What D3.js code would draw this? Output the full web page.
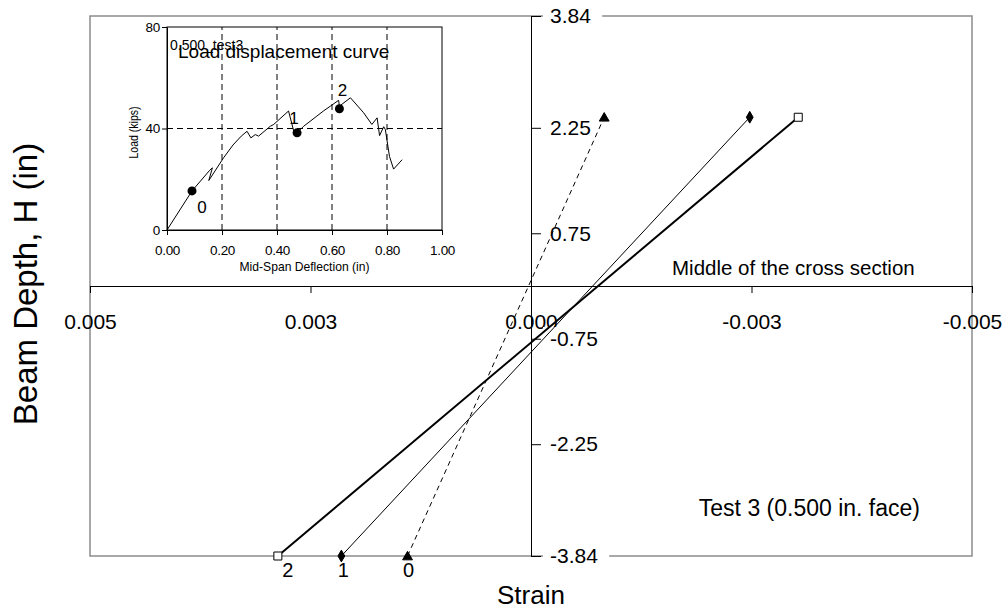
<!DOCTYPE html>
<html>
<head>
<meta charset="utf-8">
<script src="https://cdn.jsdelivr.net/npm/d3@7"></script>
<style>
  body { margin: 0; background: #fff; }
  svg { font-family: "Liberation Sans", Arial, sans-serif; }
</style>
</head>
<body>
<svg id="chart" width="1008" height="611"></svg>
<script>
// Strain profiles: depth of gauge vs strain, one array per load stage
const depth = [-3.84, 2.4];
const strain0 = [0.00140, -0.00083];
const strain1 = [0.00215, -0.00248];
const strain2 = [0.00287, -0.00303];
const stageNames = ["0", "1", "2"];

// Axis ticks
const xTicks = [0.005, 0.0025, 0, -0.0025, -0.005];
const xTickLabels = ["0.005", "0.003", "0.000", "-0.003", "-0.005"];
const yTicks = [3.84, 2.25, 0.75, -0.75, -2.25, -3.84];
const yTickLabels = ["3.84", "2.25", "0.75", "-0.75", "-2.25", "-3.84"];

// Inset: load-displacement curve
const deflection = [0, 0.091, 0.155, 0.165, 0.152, 0.206, 0.24, 0.27, 0.291, 0.305, 0.321, 0.333, 0.376, 0.388, 0.442, 0.461, 0.473, 0.497, 0.52, 0.545, 0.57, 0.594, 0.624, 0.627, 0.667, 0.715, 0.745, 0.764, 0.773, 0.788, 0.794, 0.809, 0.824, 0.855];
const load = [0, 15.4, 23.5, 24.5, 19.5, 28.5, 33.5, 37, 38.9, 36.3, 37.6, 37.0, 40.9, 41.6, 46.9, 38.9, 38.3, 40.9, 42.8, 44.9, 47, 48.8, 51.1, 48.8, 52.1, 46.2, 41.6, 44.2, 37.2, 40.7, 39.6, 29.0, 24.0, 27.7];
const stageDefl = [0.091, 0.473, 0.627];
const stageLoad = [15.4, 38.3, 47.8];
const insetXTicks = [0, 0.2, 0.4, 0.6, 0.8, 1.0];
const insetYTicks = [0, 40, 80];

const svg = d3.select('#chart');
const FONT = '"Liberation Sans", Arial, sans-serif';

// Main scales (strain axis runs positive to the left)
const x = d3.scaleLinear().domain([0.005, -0.005]).range([90, 972]);
const y = d3.scaleLinear().domain([-3.84, 3.84]).range([556, 16]);

svg.append('rect')
    .attr('x', 0).attr('y', 0).attr('width', 1008).attr('height', 611)
    .attr('fill', '#fff');

// Plot frame
svg.append('rect')
    .attr('x', x(0.005)).attr('y', y(3.84))
    .attr('width', x(-0.005) - x(0.005)).attr('height', y(-3.84) - y(3.84))
    .attr('fill', 'none').attr('stroke', '#8c8c8c').attr('stroke-width', 1.5);

// x axis through H = 0
const xAxis = svg.append('g')
    .attr('transform', `translate(0,${y(0)})`)
    .call(d3.axisBottom(x).tickValues(xTicks)
        .tickFormat((d, i) => xTickLabels[i]).tickSize(7).tickPadding(21).tickSizeOuter(0));
xAxis.select('.domain').attr('stroke', '#000');
xAxis.selectAll('.tick text').attr('font-size', 21).attr('fill', '#000')
    .attr('font-family', FONT);

// y axis through strain = 0
const yAxis = svg.append('g')
    .attr('transform', `translate(${x(0)},0)`)
    .call(d3.axisRight(y).tickValues(yTicks)
        .tickFormat((d, i) => yTickLabels[i]).tickSize(10).tickPadding(9).tickSizeOuter(0));
yAxis.select('.domain').attr('stroke', '#000');
yAxis.selectAll('.tick text').attr('font-size', 21).attr('fill', '#000')
    .attr('font-family', FONT);
// white boxes behind the depth labels (they break the frame line)
yAxis.selectAll('.tick').each(function () {
    const t = d3.select(this).select('text');
    const b = t.node().getBBox();
    d3.select(this).insert('rect', 'text')
        .attr('x', b.x - 7).attr('y', b.y)
        .attr('width', b.width + 18).attr('height', b.height)
        .attr('fill', '#fff');
});

// Axis titles and notes
svg.append('text')
    .attr('transform', `translate(37,${y(0) - 2}) rotate(-90)`)
    .attr('text-anchor', 'middle')
    .attr('font-size', 33)
    .text('Beam Depth, H (in)');

svg.append('text')
    .attr('x', x(0)).attr('y', 604)
    .attr('text-anchor', 'middle')
    .attr('font-size', 26)
    .text('Strain');

svg.append('text')
    .attr('x', 672).attr('y', 275)
    .attr('font-size', 20.5)
    .text('Middle of the cross section');

svg.append('text')
    .attr('x', 920).attr('y', 516)
    .attr('text-anchor', 'end')
    .attr('font-size', 23)
    .text('Test 3 (0.500 in. face)');

// Strain profiles
const profiles = [
    { name: stageNames[0], strain: strain0, width: 1, dash: '5,4', marker: 'triangle', labelDx: 1 },
    { name: stageNames[1], strain: strain1, width: 1, dash: null, marker: 'diamond', labelDx: 2 },
    { name: stageNames[2], strain: strain2, width: 2, dash: null, marker: 'square', labelDx: 10 },
];

const line = d3.line().x(d => x(d[0])).y(d => y(d[1]));

profiles.forEach((p) => {
    const pts = p.strain.map((s, i) => [s, depth[i]]);
    svg.append('path')
        .datum(pts)
        .attr('d', line)
        .attr('fill', 'none')
        .attr('stroke', '#000')
        .attr('stroke-width', p.width)
        .attr('stroke-dasharray', p.dash);

    const symbolType = p.marker === 'triangle' ? d3.symbolTriangle
        : p.marker === 'diamond' ? d3.symbolDiamond : d3.symbolSquare;
    const size = p.marker === 'square' ? 64 : p.marker === 'diamond' ? 40 : 42;
    svg.selectAll(null)
        .data(pts)
        .enter()
        .append('path')
        .attr('transform', d => `translate(${x(d[0])},${y(d[1]) + (p.marker === 'triangle' ? 1 : 0)})`)
        .attr('d', d3.symbol().type(symbolType).size(size))
        .attr('fill', p.marker === 'square' ? '#fff' : '#000')
        .attr('stroke', '#000')
        .attr('stroke-width', 1);

    svg.append('text')
        .attr('x', x(p.strain[0]) + p.labelDx).attr('y', y(depth[0]) + 21)
        .attr('text-anchor', 'middle')
        .attr('font-size', 20)
        .text(p.name);
});

// ---- Inset: load-displacement curve ----
const ix = d3.scaleLinear().domain([0, 1]).range([167, 442]);
const iy = d3.scaleLinear().domain([0, 80]).range([230, 27]);

const inset = svg.append('g');

// dashed gridlines
inset.selectAll('.vgrid')
    .data(insetXTicks.slice(1, -1))
    .enter()
    .append('line')
    .attr('x1', d => ix(d)).attr('x2', d => ix(d))
    .attr('y1', iy(0)).attr('y2', iy(80))
    .attr('stroke', '#000').attr('stroke-dasharray', '6,4');
inset.append('line')
    .attr('x1', ix(0)).attr('x2', ix(1))
    .attr('y1', iy(40)).attr('y2', iy(40))
    .attr('stroke', '#000').attr('stroke-dasharray', '6,4');

inset.append('rect')
    .attr('x', ix(0)).attr('y', iy(80))
    .attr('width', ix(1) - ix(0)).attr('height', iy(0) - iy(80))
    .attr('fill', 'none').attr('stroke', '#000').attr('stroke-width', 1);

const ixAxis = inset.append('g')
    .attr('transform', `translate(0,${iy(0)})`)
    .call(d3.axisBottom(ix).tickValues(insetXTicks).tickFormat(d3.format('.2f'))
        .tickSize(5).tickPadding(10).tickSizeOuter(0));
const iyAxis = inset.append('g')
    .attr('transform', `translate(${ix(0)},0)`)
    .call(d3.axisLeft(iy).tickValues(insetYTicks).tickFormat(d3.format('d'))
        .tickSize(5).tickPadding(2).tickSizeOuter(0));
[ixAxis, iyAxis].forEach((a) => {
    a.select('.domain').attr('stroke', '#000');
    a.selectAll('.tick text').attr('font-size', 13.5).attr('fill', '#000')
        .attr('font-family', FONT)
        .attr('letter-spacing', -0.3);
});

inset.append('text')
    .attr('x', (ix(0) + ix(1)) / 2).attr('y', 271)
    .attr('text-anchor', 'middle')
    .attr('font-size', 13)
    .attr('textLength', 130).attr('lengthAdjust', 'spacingAndGlyphs')
    .text('Mid-Span Deflection (in)');

inset.append('text')
    .attr('transform', `translate(138,${iy(40) + 4}) rotate(-90)`)
    .attr('text-anchor', 'middle')
    .attr('font-size', 12)
    .attr('textLength', 52).attr('lengthAdjust', 'spacingAndGlyphs')
    .text('Load (kips)');

inset.append('text')
    .attr('x', 170).attr('y', 50)
    .attr('font-size', 14)
    .text('0.500_test3');

inset.append('text')
    .attr('x', 178).attr('y', 58)
    .attr('font-size', 19)
    .text('Load displacement curve');

const curve = deflection.map((d, i) => [d, load[i]]);
inset.append('path')
    .datum(curve)
    .attr('d', d3.line().x(d => ix(d[0])).y(d => iy(d[1])))
    .attr('fill', 'none')
    .attr('stroke', '#000')
    .attr('stroke-width', 1);

inset.selectAll('.stage')
    .data(stageDefl.map((d, i) => [d, stageLoad[i]]))
    .enter()
    .append('circle')
    .attr('cx', d => ix(d[0])).attr('cy', d => iy(d[1]))
    .attr('r', 4.5)
    .attr('fill', '#000');

const stageLabelOffset = [[10, 22], [-3, -9], [3, -13]];
stageDefl.forEach((d, i) => {
    inset.append('text')
        .attr('x', ix(d) + stageLabelOffset[i][0])
        .attr('y', iy(stageLoad[i]) + stageLabelOffset[i][1])
        .attr('text-anchor', 'middle')
        .attr('font-size', 17)
        .text(stageNames[i]);
});
</script>
</body>
</html>
